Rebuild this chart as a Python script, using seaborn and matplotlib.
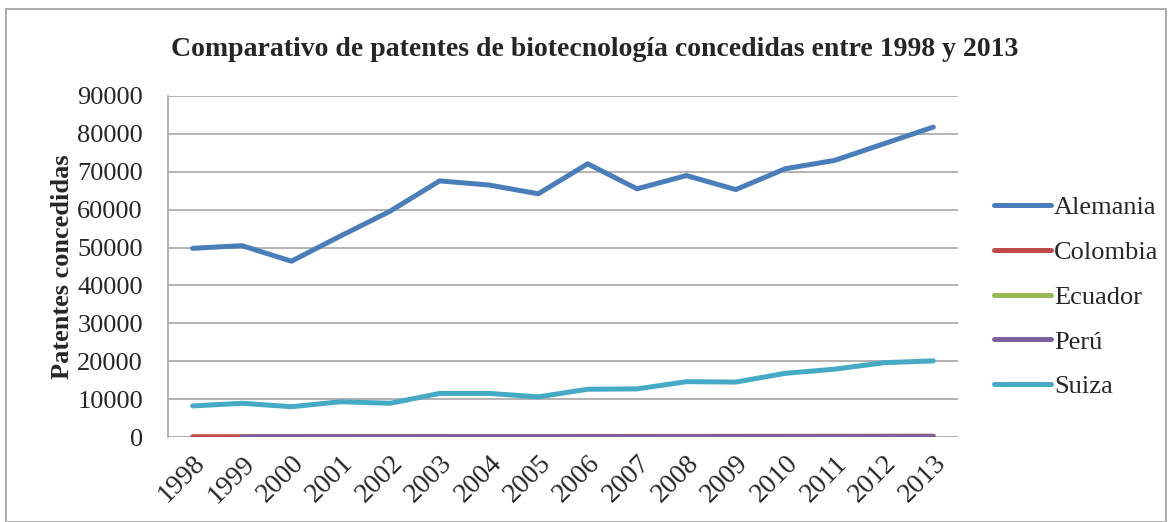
import numpy as np
import pandas as pd
import seaborn as sns
import matplotlib.pyplot as plt
from matplotlib.patches import Rectangle

years = list(range(1998, 2014))
alemania = [49800, 50500, 46400, 53100, 59600, 67600, 66500, 64200, 72100,
            65500, 69000, 65300, 70800, 73000, 77400, 81800]
colombia = [60, 70, 80, 90, 100, 110, 120, 130, 140, 150, 160, 170, 180, 190, 200, 220]
ecuador = [np.nan, 5, 5, 5, 5, 5, 5, 5, 5, 5, 5, 5, 5, 5, 5, 5]
peru = [np.nan, 40, 40, 50, 50, 60, 60, 70, 70, 80, 80, 90, 90, 100, 100, 110]
suiza = [8200, 8900, 8000, 9300, 8900, 11500, 11500, 10600, 12600,
         12700, 14600, 14500, 16800, 17900, 19600, 20100]

series = {"Alemania": alemania, "Colombia": colombia, "Ecuador": ecuador,
          "Perú": peru, "Suiza": suiza}
colors = ["#4a7ebb", "#be4b48", "#98b954", "#7d60a0", "#46aac5"]

df = pd.DataFrame([(y, name, v) for name, vals in series.items()
                   for y, v in zip(years, vals)],
                  columns=["Año", "País", "Patentes"])

sns.set_style("white")
plt.rcParams["font.family"] = ["Liberation Serif", "DejaVu Serif"]

fig = plt.figure(figsize=(11.7, 5.22), dpi=100)
ax = fig.add_axes([168 / 1170, 1 - 437 / 522, (958 - 168) / 1170, (437 - 96) / 522])

sns.lineplot(data=df, x="Año", y="Patentes", hue="País", palette=colors,
             linewidth=3.6, ax=ax, legend=True)

ax.set_xlim(1997.5, 2013.5)
ax.set_ylim(0, 90000)
ax.set_yticks(range(0, 90001, 10000))
ax.set_xticks(years)
ax.set_xticklabels([str(y) for y in years], rotation=45, ha="right",
                   rotation_mode="anchor", fontsize=20)
ax.tick_params(axis="y", labelsize=19, length=0, pad=18)
ax.tick_params(axis="x", length=0, pad=10)
ax.grid(axis="y", color="#a6a6a6", linewidth=1.2)
ax.set_axisbelow(True)
for s in ["top", "right"]:
    ax.spines[s].set_visible(False)
ax.spines["bottom"].set_visible(False)
ax.spines["left"].set_color("#a6a6a6")
ax.spines["left"].set_linewidth(1.2)

ax.set_xlabel("")
ax.set_ylabel("Patentes concedidas", fontsize=19, fontweight="bold", labelpad=2)

fig.text(595 / 1170, 1 - 49 / 522,
         "Comparativo de patentes de biotecnología concedidas entre 1998 y 2013",
         ha="center", va="center", fontsize=20, fontweight="bold")

handles, labels = ax.get_legend_handles_labels()
ax.legend(handles, labels, loc="center left",
          bbox_to_anchor=(970 / 1170, 1 - 297 / 522),
          bbox_transform=fig.transFigure,
          frameon=False, fontsize=19, handlelength=2.16, labelspacing=0.81,
          handletextpad=0.12)

fig.patches.append(Rectangle((6 / 1170, 0), 1160 / 1170, 1 - 9 / 522,
                             transform=fig.transFigure, fill=False,
                             edgecolor="#a0a0a0", linewidth=1.2))

fig.savefig("out.png", dpi=100)
